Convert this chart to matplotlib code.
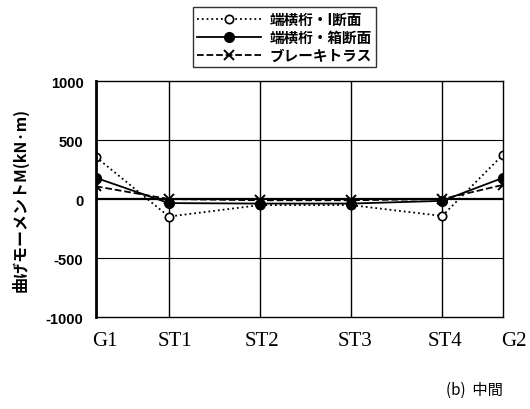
import matplotlib.pyplot as plt
from matplotlib.transforms import ScaledTranslation

plt.rcParams['font.family'] = ['Noto Sans CJK JP', 'DejaVu Sans']

# girder / stringer positions along the end cross beam
labels = ['G1', 'ST1', 'ST2', 'ST3', 'ST4', 'G2']
xpos = [0.0, 1.2, 2.7, 4.2, 5.7, 6.7]

# bending moment (kN*m)
m_isec = [356, -148, -51, -51, -143, 376]
m_box = [180, -34, -38, -38, -15, 180]
m_truss = [108, 0, -10, -10, 0, 120]

fig = plt.figure(figsize=(5.3, 4.1), dpi=100)
ax = fig.add_axes([0.181, 0.224, 0.768, 0.576])

ax.plot(xpos, m_isec, color='black', linestyle=':', linewidth=1.3,
        marker='o', markersize=6, markerfacecolor='white', markeredgewidth=1.2,
        label='端横桁・I断面')
ax.plot(xpos, m_box, color='black', linestyle='-', linewidth=1.3,
        marker='o', markersize=7, markerfacecolor='black',
        label='端横桁・箱断面')
ax.plot(xpos, m_truss, color='black', linestyle='--', linewidth=1.3,
        marker='x', markersize=7, markeredgewidth=1.4,
        label='ブレーキトラス')

ax.set_xlim(xpos[0], xpos[-1])
ax.set_ylim(-1000, 1000)
ax.set_yticks([-1000, -500, 0, 500, 1000])
ax.set_yticklabels(['-1000', '-500', '0', '500', '1000'],
                   family='Liberation Sans', fontweight='bold', fontsize=10.5)
ax.set_xticks(xpos)
ax.set_xticklabels(labels, family='Liberation Serif', fontsize=15)
ax.tick_params(length=0, pad=9)
ax.tick_params(axis='x', pad=10)

# nudge the labels off the grid lines a little
shifts = [9, 6, 2, 4, 3, 11]
for lab, dx in zip(ax.get_xticklabels(), shifts):
    lab.set_transform(lab.get_transform() + ScaledTranslation(dx / 100, 0, fig.dpi_scale_trans))

for x in xpos[1:-1]:
    ax.axvline(x, color='black', linewidth=1.0, zorder=0)
for y in (500, -500):
    ax.axhline(y, color='black', linewidth=0.8, zorder=0)
ax.axhline(0, color='black', linewidth=1.6, zorder=0)

ax.spines['left'].set_linewidth(2.0)
for s in ('top', 'right', 'bottom'):
    ax.spines[s].set_linewidth(1.0)

ax.set_ylabel('曲げモーメントM(kN·m)', fontsize=11.5, fontweight='bold')
ax.yaxis.set_label_coords(-0.165, 0.5)

leg = fig.legend(loc='upper left', bbox_to_anchor=(193 / 530, 1 - 8 / 410),
                 prop={'size': 10.5, 'weight': 'bold'}, frameon=True,
                 fancybox=False, handlelength=4.4, borderpad=0.25,
                 labelspacing=0.15, handletextpad=0.6, borderaxespad=0)
leg.get_frame().set_edgecolor('black')
leg.get_frame().set_linewidth(1.0)

fig.text(446 / 530, 1 - 390 / 410, '(b)  中間', fontsize=11, ha='left', va='center')

fig.savefig('out.png', dpi=100)
